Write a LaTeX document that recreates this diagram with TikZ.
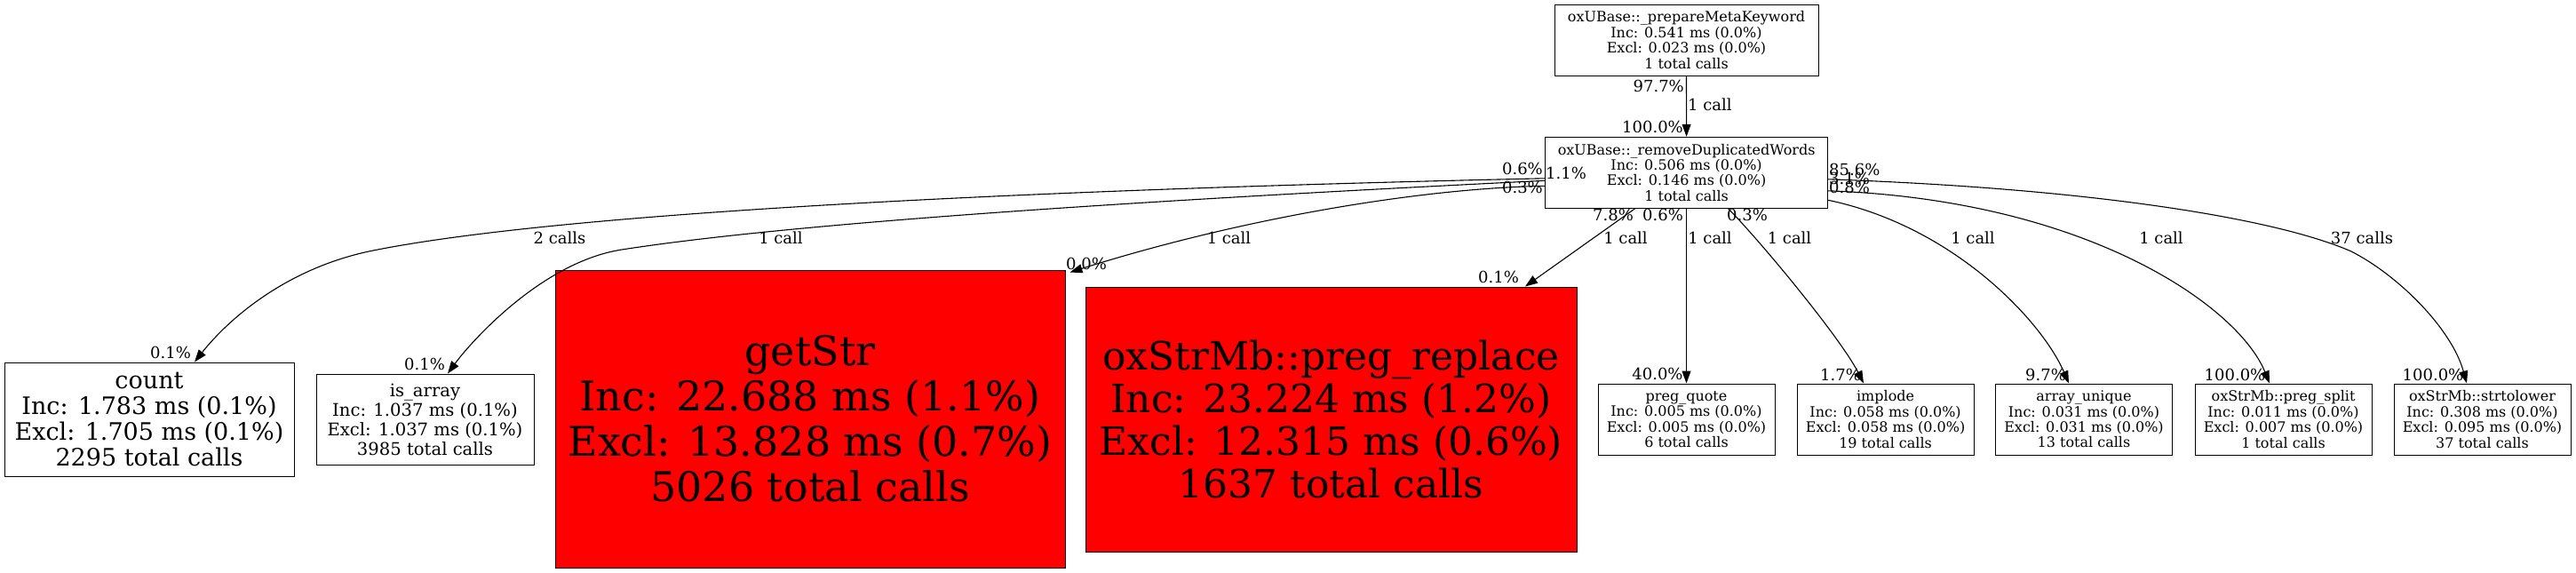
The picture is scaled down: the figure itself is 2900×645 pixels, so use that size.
\documentclass[tikz,border=0pt]{standalone}
\usepackage{fontspec}
\setmainfont{DejaVu Serif}
\usetikzlibrary{calc,arrows.meta}
\def\fnbox{\node[fnbox]}
\def\drawcall{\draw[call]}
\def\pct{\node[pct]}
\tikzset{
  fnbox/.style={draw=black, line width=1pt, fill=white, align=center, inner sep=0pt},
  hotbox/.style={fill=red},
  leafbox/.style={font=\fontsize{16}{17.4}\selectfont, minimum width=199pt, minimum height=80pt},
  call/.style={line width=1.1pt, -{Triangle[length=14pt,width=10pt]}},
  pct/.style={font=\fontsize{18}{20}\selectfont, inner sep=0pt},
}
\begin{document}
\begin{tikzpicture}[x=1pt,y=-1pt]
\useasboundingbox (0,0) rectangle (2900,645);

% ---------- the two callers on top
\fnbox[minimum width=297pt, minimum height=80pt, font=\fontsize{16}{17.4}\selectfont] (pmk) at (1898.5,45)
  {oxUBase::\_prepareMetaKeyword\\Inc: 0.541 ms (0.0\%)\\Excl: 0.023 ms (0.0\%)\\1 total calls};
\fnbox[minimum width=318pt, minimum height=80pt, font=\fontsize{16}{17.4}\selectfont] (rdw) at (1898.6,194.3)
  {oxUBase::\_removeDuplicatedWords\\Inc: 0.506 ms (0.0\%)\\Excl: 0.146 ms (0.0\%)\\1 total calls};

% ---------- callees, left part
\fnbox[minimum width=326pt, minimum height=128pt, font=\fontsize{27}{28.7}\selectfont] (cnt) at (168,472)
  {count\\Inc: 1.783 ms (0.1\%)\\Excl: 1.705 ms (0.1\%)\\2295 total calls};
\fnbox[minimum width=245pt, minimum height=102pt, font=\fontsize{19.6}{22}\selectfont] (isa) at (478.5,472)
  {is\_array\\Inc: 1.037 ms (0.1\%)\\Excl: 1.037 ms (0.1\%)\\3985 total calls};
\fnbox[hotbox, minimum width=574pt, minimum height=335pt, font=\fontsize{46}{51}\selectfont] (gs) at (912,471.5)
  {getStr\\Inc: 22.688 ms (1.1\%)\\Excl: 13.828 ms (0.7\%)\\5026 total calls};
\fnbox[hotbox, minimum width=553pt, minimum height=298pt, font=\fontsize{44}{48}\selectfont] (prr) at (1498.5,472)
  {oxStrMb::preg\_replace\\Inc: 23.224 ms (1.2\%)\\Excl: 12.315 ms (0.6\%)\\1637 total calls};

% ---------- callees, right part (small leaves, 224 apart)
\fnbox[leafbox] (pq) at (1898.5,472)
  {preg\_quote\\Inc: 0.005 ms (0.0\%)\\Excl: 0.005 ms (0.0\%)\\6 total calls};
\fnbox[leafbox] (imp) at ($ (pq) + (224.1,0) $)
  {implode\\Inc: 0.058 ms (0.0\%)\\Excl: 0.058 ms (0.0\%)\\19 total calls};
\fnbox[leafbox] (au) at ($ (imp) + (223.4,0) $)
  {array\_unique\\Inc: 0.031 ms (0.0\%)\\Excl: 0.031 ms (0.0\%)\\13 total calls};
\fnbox[leafbox] (psp) at ($ (au) + (224.5,0) $)
  {oxStrMb::preg\_split\\Inc: 0.011 ms (0.0\%)\\Excl: 0.007 ms (0.0\%)\\1 total calls};
\fnbox[leafbox] (stl) at ($ (psp) + (224,0) $)
  {oxStrMb::strtolower\\Inc: 0.308 ms (0.0\%)\\Excl: 0.095 ms (0.0\%)\\37 total calls};

% ---------- calls
\drawcall (pmk.south) -- (rdw.north);

% to the left, leaving the west side of rdw
\coordinate (cnt_bend) at (420,282); % where the count edge turns down
\coordinate (isa_bend) at (700,281);
\drawcall ($ (rdw.west) + (0,6.5) $) .. controls (1100,215) and (620,242) .. (cnt_bend)
  .. controls (320,302) and (255,362) .. ($ (cnt.north) + (51,0) $);
\drawcall ($ (rdw.west) + (0,9) $) .. controls (1300,225) and (900,250) .. (isa_bend)
  .. controls (610,295) and (530,385) .. ($ (isa.north) + (25.5,0) $);
\drawcall ($ (rdw.west) + (0,15) $) .. controls (1600,212) and (1400,245) .. ($ (gs.north east) + (5,3) $);

% straight down from the south side
\drawcall ($ (rdw.south) + (-58,0) $) -- ($ (prr.north) + (218.5,0) $);
\drawcall (rdw.south -| pq.north) -- (pq.north);
\drawcall ($ (rdw.south) + (47,0) $) .. controls (1985,275) and (2073,382) .. ($ (imp.north) + (-24.6,0) $);

% to the right, leaving the east side of rdw
\coordinate (stl_bend) at (2647,283);
\drawcall ($ (rdw.east) + (0,31) $) .. controls (2200,255) and (2299,362) .. ($ (au.north) + (-17,0) $);
\drawcall ($ (rdw.east) + (0,20.5) $) .. controls (2350,225) and (2520,345) .. ($ (psp.north) + (-15.5,0) $);
\drawcall ($ (rdw.east) + (0,7.5) $) .. controls (2350,212) and (2560,245) .. (stl_bend)
  .. controls (2700,310) and (2760,370) .. ($ (stl.north) + (-17.5,0) $);

% ---------- percentages at the tails
\pct[anchor=east] (pmk_out) at (1896,97) {97.7\%};
\pct[anchor=west] (pmk_call) at (1900,118) {1 call};
\pct[anchor=east] (rdw_in) at (1895,143) {100.0\%};
\pct[anchor=east] (rdw_w1) at (1737,190) {0.6\%};
\pct[anchor=west] (rdw_w2) at (1740,195) {1.1\%};
\pct[anchor=east] (rdw_w3) at (1737,211) {0.3\%};
\pct[anchor=west] (rdw_e1) at (2059,191) {85.6\%};
\pct[anchor=west] (rdw_e2) at (2059,201) {3.1\%};
\pct[anchor=west] (rdw_e3) at (2059,211) {0.8\%};
\pct (rdw_s1) at (1816,242) {7.8\%};
\pct (rdw_s2) at (1872,242) {0.6\%};
\pct (rdw_s3) at (1967,242) {0.3\%};

% ---------- call counts
\pct (cnt_calls) at (630,268) {2 calls};
\pct (isa_calls) at (879,268) {1 call};
\pct (gs_calls) at (1383.5,268) {1 call};
\pct (prr_calls) at (1830,268) {1 call};
\pct (pq_calls) at (1925,268) {1 call};
\pct (imp_calls) at (2014.5,268) {1 call};
\pct (au_calls) at (2221,268) {1 call};
\pct (psp_calls) at (2433,268) {1 call};
\pct (stl_calls) at (2659,268) {37 calls};

% ---------- percentages at the heads
\pct (cnt_in) at (192,397) {0.1\%};
\pct (isa_in) at (478,410) {0.1\%};
\pct (gs_in) at (1223,297) {0.0\%};
\pct (prr_in) at (1687,312) {0.1\%};
\pct (pq_in) at (1866,421) {40.0\%};
\pct (imp_in) at (2072,422) {1.7\%};
\pct (au_in) at (2303,422) {9.7\%};
\pct (psp_in) at (2516,422) {100.0\%};
\pct (stl_in) at (2739,422) {100.0\%};
\end{tikzpicture}
\end{document}
